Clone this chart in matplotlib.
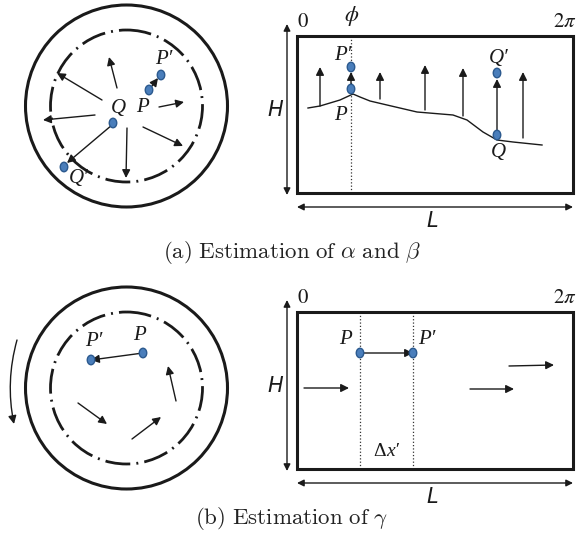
import matplotlib.pyplot as plt
from matplotlib.patches import Circle, Ellipse, Rectangle, FancyArrowPatch

# canvas in pixels (y grows downward)
W, HT = 578, 542

# ---- panel (a) geometry ----
circ_a = (126.5, 106)
circ_b = (126.5, 388)
outer_r = 101
inner_r = 76

radial_a = [((117, 88), (109, 57)), ((102, 100), (57, 73)), ((95, 115), (43, 120)),
            ((112, 125), (67, 163)), ((127, 128), (126, 178)), ((143, 127), (183, 146)),
            ((159, 107), (184, 102)), ((149, 90), (158, 78))]
pts_circ_a = [(113, 123), (64, 167), (149, 90), (161, 75)]
labels_circ_a = [('Q', 118, 108), ('P', 142, 108), ('P\u2032', 164, 60), ('Q\u2032', 79, 179)]

rect_a = (297, 36, 573, 193)
phi_x = 351
curve_x = [308, 320, 340, 353, 360, 370, 387, 417, 453, 467, 483, 497, 513, 542]
curve_y = [108, 106, 100, 94, 97, 101, 105, 112, 115, 120, 132, 140, 142, 145]
up_arrows = [((320, 106), (320, 67)), ((380, 99), (380, 72)), ((425, 110), (425, 65)),
             ((463, 116), (463, 68)), ((523, 138), (523, 72)), ((497, 135), (497, 79)),
             ((351, 89), (351, 72))]
pts_rect_a = [(351, 89), (351, 67), (497, 135), (497, 73)]
labels_rect_a = [('P\u2032', 343, 55), ('P', 340, 115), ('Q\u2032', 499, 58), ('Q', 498, 152)]

# ---- panel (b) geometry ----
radial_b = [((176, 401), (168, 366)), ((78, 403), (107, 424)), ((132, 439), (161, 417)),
            ((143, 353), (91, 360))]
pts_circ_b = [(143, 353), (91, 360)]
labels_circ_b = [('P', 139, 335), ('P\u2032', 94, 342)]

rect_b = (297, 312, 573, 469)
dotted_b = [360, 413]
horiz_arrows = [((304, 388), (349, 388)), ((470, 389), (514, 389)), ((509, 366), (554, 365)),
                ((360, 353), (413, 353))]
pts_rect_b = [(360, 353), (413, 353)]
labels_rect_b = [('P', 345, 340), ('P\u2032', 427, 340)]

INK = '#1a1a1a'


def arrow(ax, start, end, style='-|>', lw=1.0, ms=12):
    ax.annotate('', xy=end, xytext=start,
                arrowprops=dict(arrowstyle=style, lw=lw, color=INK,
                                shrinkA=0, shrinkB=0, mutation_scale=ms))


def dot(ax, p):
    ax.add_patch(Ellipse(p, 7.5, 9.5, facecolor='#4a7ebb', edgecolor='#2c5a8f',
                         lw=1.0, zorder=5))


def label(ax, s, x, y, size=15, ha='center', style='italic'):
    ax.text(x, y, s, fontsize=size, ha=ha, va='center', family='Liberation Serif',
            style=style, color=INK, zorder=6)


def mlabel(ax, s, x, y, size=15):
    ax.text(x, y, s, fontsize=size, ha='center', va='center',
            math_fontfamily='stix', color=INK, zorder=6)


def circles(ax, c):
    ax.add_patch(Circle(c, outer_r, fill=False, lw=2.2, ec=INK))
    ax.add_patch(Circle(c, inner_r, fill=False, lw=2.0, ec=INK,
                        ls=(0, (9, 2.2, 0.7, 2.2)), capstyle='butt'))


def rect(ax, r):
    x0, y0, x1, y1 = r
    ax.add_patch(Rectangle((x0, y0), x1 - x0, y1 - y0, fill=False, lw=2.2, ec=INK, zorder=4))
    arrow(ax, (287, y0 - 12), (287, y1 + 2), style='<|-|>', lw=1.0, ms=10)
    arrow(ax, (x0, y1 + 14), (x1, y1 + 14), style='<|-|>', lw=1.0, ms=10)
    ax.text(275, (y0 + y1) / 2 - 5, 'H', fontsize=15, style='italic', family='DejaVu Sans',
            ha='center', va='center', color=INK)
    ax.text((x0 + x1) / 2 - 3, y1 + 28, 'L', fontsize=15, style='italic', family='DejaVu Sans',
            ha='center', va='center', color=INK)
    mlabel(ax, '$0$', x0 + 6, y0 - 15, 15)
    mlabel(ax, r'$2\pi$', x1 - 8, y0 - 15, 15)


fig = plt.figure(figsize=(W / 100, HT / 100), dpi=100)
ax = fig.add_axes([0, 0, 1, 1])
ax.set_xlim(0, W)
ax.set_ylim(HT, 0)
ax.axis('off')

# ----- (a) -----
circles(ax, circ_a)
for s, e in radial_a:
    arrow(ax, s, e)
for p in pts_circ_a:
    dot(ax, p)
for s, x, y in labels_circ_a:
    label(ax, s, x, y)

rect(ax, rect_a)
ax.plot([phi_x, phi_x], [rect_a[1], rect_a[3]], ls=':', lw=0.9, color='#333333')
mlabel(ax, r'$\phi$', phi_x + 1, 16, 16)
ax.plot(curve_x, curve_y, color=INK, lw=1.0)
for s, e in up_arrows:
    arrow(ax, s, e)
for p in pts_rect_a:
    dot(ax, p)
for s, x, y in labels_rect_a:
    label(ax, s, x, y)

ax.text(292, 253, r'$\mathrm{(a)\ Estimation\ of\ }\alpha\mathrm{\ and\ }\beta$',
        fontsize=16.5, ha='center', va='center', math_fontfamily='cm', color='#222222')

# ----- (b) -----
circles(ax, circ_b)
for s, e in radial_b:
    arrow(ax, s, e)
for p in pts_circ_b:
    dot(ax, p)
for s, x, y in labels_circ_b:
    label(ax, s, x, y)
ax.add_patch(FancyArrowPatch((17, 340), (14, 424), connectionstyle='arc3,rad=0.12',
                             arrowstyle='-|>', mutation_scale=12, lw=1.0, color=INK,
                             shrinkA=0, shrinkB=0))

rect(ax, rect_b)
for xv in dotted_b:
    ax.plot([xv, xv], [rect_b[1], rect_b[3]], ls=':', lw=0.9, color='#333333')
for s, e in horiz_arrows:
    arrow(ax, s, e)
for p in pts_rect_b:
    dot(ax, p)
for s, x, y in labels_rect_b:
    label(ax, s, x, y)
label(ax, '\u0394', 386, 452, 14, ha='right', style='normal')
label(ax, 'x\u2032', 386, 451, 14, ha='left')

ax.text(292, 518, r'$\mathrm{(b)\ Estimation\ of\ }\gamma$',
        fontsize=16.5, ha='center', va='center', math_fontfamily='cm', color='#222222')

fig.savefig('out.png', dpi=100)
